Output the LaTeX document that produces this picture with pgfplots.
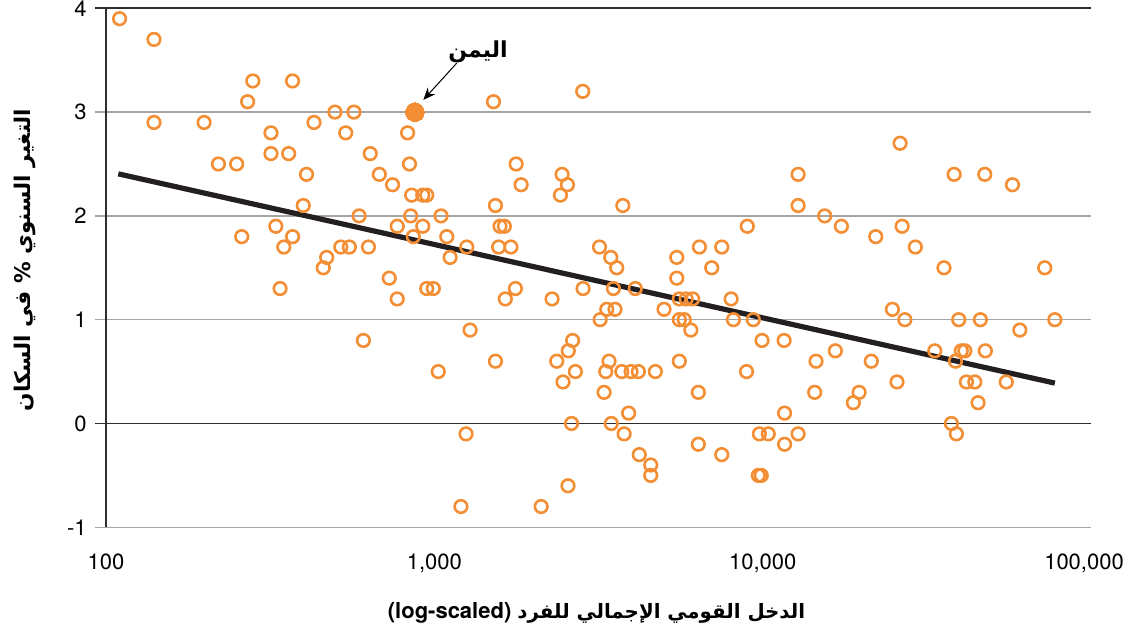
\documentclass[border=0pt]{standalone}
\usepackage{fontspec}
\setmainfont{TeX Gyre Heros}
\newfontfamily\arabicfont[Script=Arabic]{DejaVu Sans}
\TeXXeTstate=1
\usepackage{pgfplots}
\pgfplotsset{compat=1.18}
\usetikzlibrary{arrows.meta}
\definecolor{dot}{RGB}{244,142,52}
\definecolor{trend}{RGB}{35,31,32}
\definecolor{gridc}{RGB}{165,165,165}
\definecolor{axc}{RGB}{45,45,45}

\pgfplotstableread{
x y
110 3.9
140 3.7
140 2.9
199 2.9
220 2.5
250 2.5
270 3.1
280 3.3
259 1.8
318 2.8
318 2.6
329 1.9
339 1.3
348 1.7
360 2.6
370 3.3
370 1.8
399 2.1
408 2.4
430 2.9
459 1.5
470 1.6
498 3.0
519 1.7
537 2.8
551 1.7
569 3.0
590 2.0
608 0.8
630 1.7
638 2.6
680 2.4
729 1.4
746 2.3
771 1.9
771 1.2
829 2.8
840 2.5
853 2.2
847 2.0
863 1.8
922 2.2
948 2.2
922 1.9
948 1.3
993 1.3
1028 0.5
1048 2.0
1091 1.8
1117 1.6
1255 1.7
1285 0.9
1249 -0.1
1205 -0.8
1514 3.1
1535 2.1
1535 0.6
1585 1.9
1634 1.9
1570 1.7
1711 1.7
1645 1.2
1766 1.3
1775 2.5
1838 2.3
2115 -0.8
2283 1.2
2359 0.6
2421 2.2
2449 2.4
2543 2.3
2465 0.4
2558 0.7
2637 0.8
2689 0.5
2617 0.0
2553 -0.6
2831 3.2
2838 1.3
3184 1.7
3199 1.0
3288 0.3
3327 0.5
3351 1.1
3405 0.6
3447 1.6
3459 0.0
3511 1.3
3550 1.1
3594 1.5
3751 2.1
3724 0.5
3785 -0.1
3906 0.1
3975 0.5
4093 1.3
4182 0.5
4209 -0.3
4561 -0.4
4561 -0.5
4711 0.5
5007 1.1
5475 1.6
5475 1.4
5574 1.2
5574 1.0
5574 0.6
5770 1.0
5848 1.2
6043 0.9
6121 1.2
6369 0.3
6369 -0.2
6417 1.7
6995 1.5
7505 1.7
7505 -0.3
8016 1.2
8146 1.0
8930 0.5
8977 1.9
9364 1.0
9955 0.8
9700 -0.5
9900 -0.5
9772 -0.1
10400 -0.1
11620 0.8
11660 0.1
11660 -0.2
12820 2.4
12820 2.1
12820 -0.1
14400 0.3
14540 0.6
15450 2.0
16650 0.7
17370 1.9
18890 0.2
19670 0.3
21420 0.6
22100 1.8
24830 1.1
25650 0.4
26210 2.7
26590 1.9
27100 1.0
29170 1.7
33430 0.7
35660 1.5
37570 0.0
38290 2.4
38650 0.6
38900 -0.1
39550 1.0
40270 0.7
41270 0.7
41740 0.4
44260 0.4
45290 0.2
46030 1.0
47470 2.4
47660 0.7
55200 0.4
57650 2.3
60700 0.9
72300 1.5
77600 1.0
}\countries

\begin{document}
\begin{tikzpicture}
\begin{axis}[name=ax,
  xmode=log, scale only axis, width=492.5pt, height=259.5pt,
  xmin=100, xmax=100000, ymin=-1, ymax=4,
  axis line style={draw=none},
  xtick={100,1000,10000,100000},
  xticklabels={100,{1,000},{10,000},{\hspace*{-7pt}100,000}},
  xminorticks=false,
  ytick={-1,0,1,2,3,4}, yticklabels={-1,0,1,2,3,4},
  tick style={draw=none},
  tick align=inside, major tick length=0pt,
  ymajorgrids, grid style={gridc, line width=0.65pt},
  ticklabel style={font=\fontsize{11}{13}\selectfont},
  xticklabel style={anchor=north, inner sep=0pt, yshift=-13pt},
  yticklabel style={anchor=east, inner sep=0pt, xshift=-9.5pt},
  /pgf/number format/assume math mode=true,
  clip=false,
]
\draw[gridc, line width=0.65pt] ([xshift=-5.5pt]axis cs:100,-1) -- (axis cs:100,-1);
\draw[gridc, line width=0.65pt] ([xshift=-5.5pt]axis cs:100,1) -- (axis cs:100,1);
\draw[gridc, line width=0.65pt] ([xshift=-5.5pt]axis cs:100,2) -- (axis cs:100,2);
\draw[gridc, line width=0.65pt] ([xshift=-5.5pt]axis cs:100,3) -- (axis cs:100,3);
\draw[axc, line width=0.75pt] ([xshift=-5.5pt]axis cs:100,0) -- (axis cs:100000,0);
\draw[axc, line width=0.8pt] ([xshift=-5.5pt]rel axis cs:0,1) -- (rel axis cs:1,1);
\draw[axc, line width=0.8pt] (rel axis cs:0,0) -- (rel axis cs:0,1);
\addplot[only marks, mark=o, mark size=3.15pt, color=dot, line width=1.3pt] table[x=x,y=y] {\countries};
\addplot[only marks, mark=*, mark size=4.7pt, color=dot, mark options={fill=dot, draw=dot, line width=0pt}] coordinates {(873,3.0)};
\addplot[trend, line width=2.6pt, no marks] coordinates {(109,2.405) (77600,0.389)};
\node[font=\arabicfont\bfseries\fontsize{11}{13}\selectfont] at (axis cs:1359,3.584) {\beginR اليمن\endR};
\draw[-{Stealth[length=6pt,width=5pt]}, line width=0.5pt, black] (axis cs:1170,3.472) -- (axis cs:926,3.118);
\node[rotate=90, font=\bfseries\fontsize{10.8}{13}\selectfont] at ([xshift=-40.5pt,yshift=3.9pt]rel axis cs:0,0.5) {\arabicfont\beginR التغير السنوي \% في السكان\endR};
\node[font=\bfseries\fontsize{11}{13}\selectfont] at ([xshift=-1pt,yshift=-42.7pt]rel axis cs:0.5,0) {(log-scaled) {\arabicfont\fontsize{9.9}{13}\selectfont\beginR الدخل القومي الإجمالي للفرد\endR}};
\end{axis}
\pgfresetboundingbox
\path ([shift={(-53pt,-53.35pt)}]ax.south west) rectangle ([shift={(18.5pt,4.15pt)}]ax.north east);
\end{tikzpicture}
\end{document}
